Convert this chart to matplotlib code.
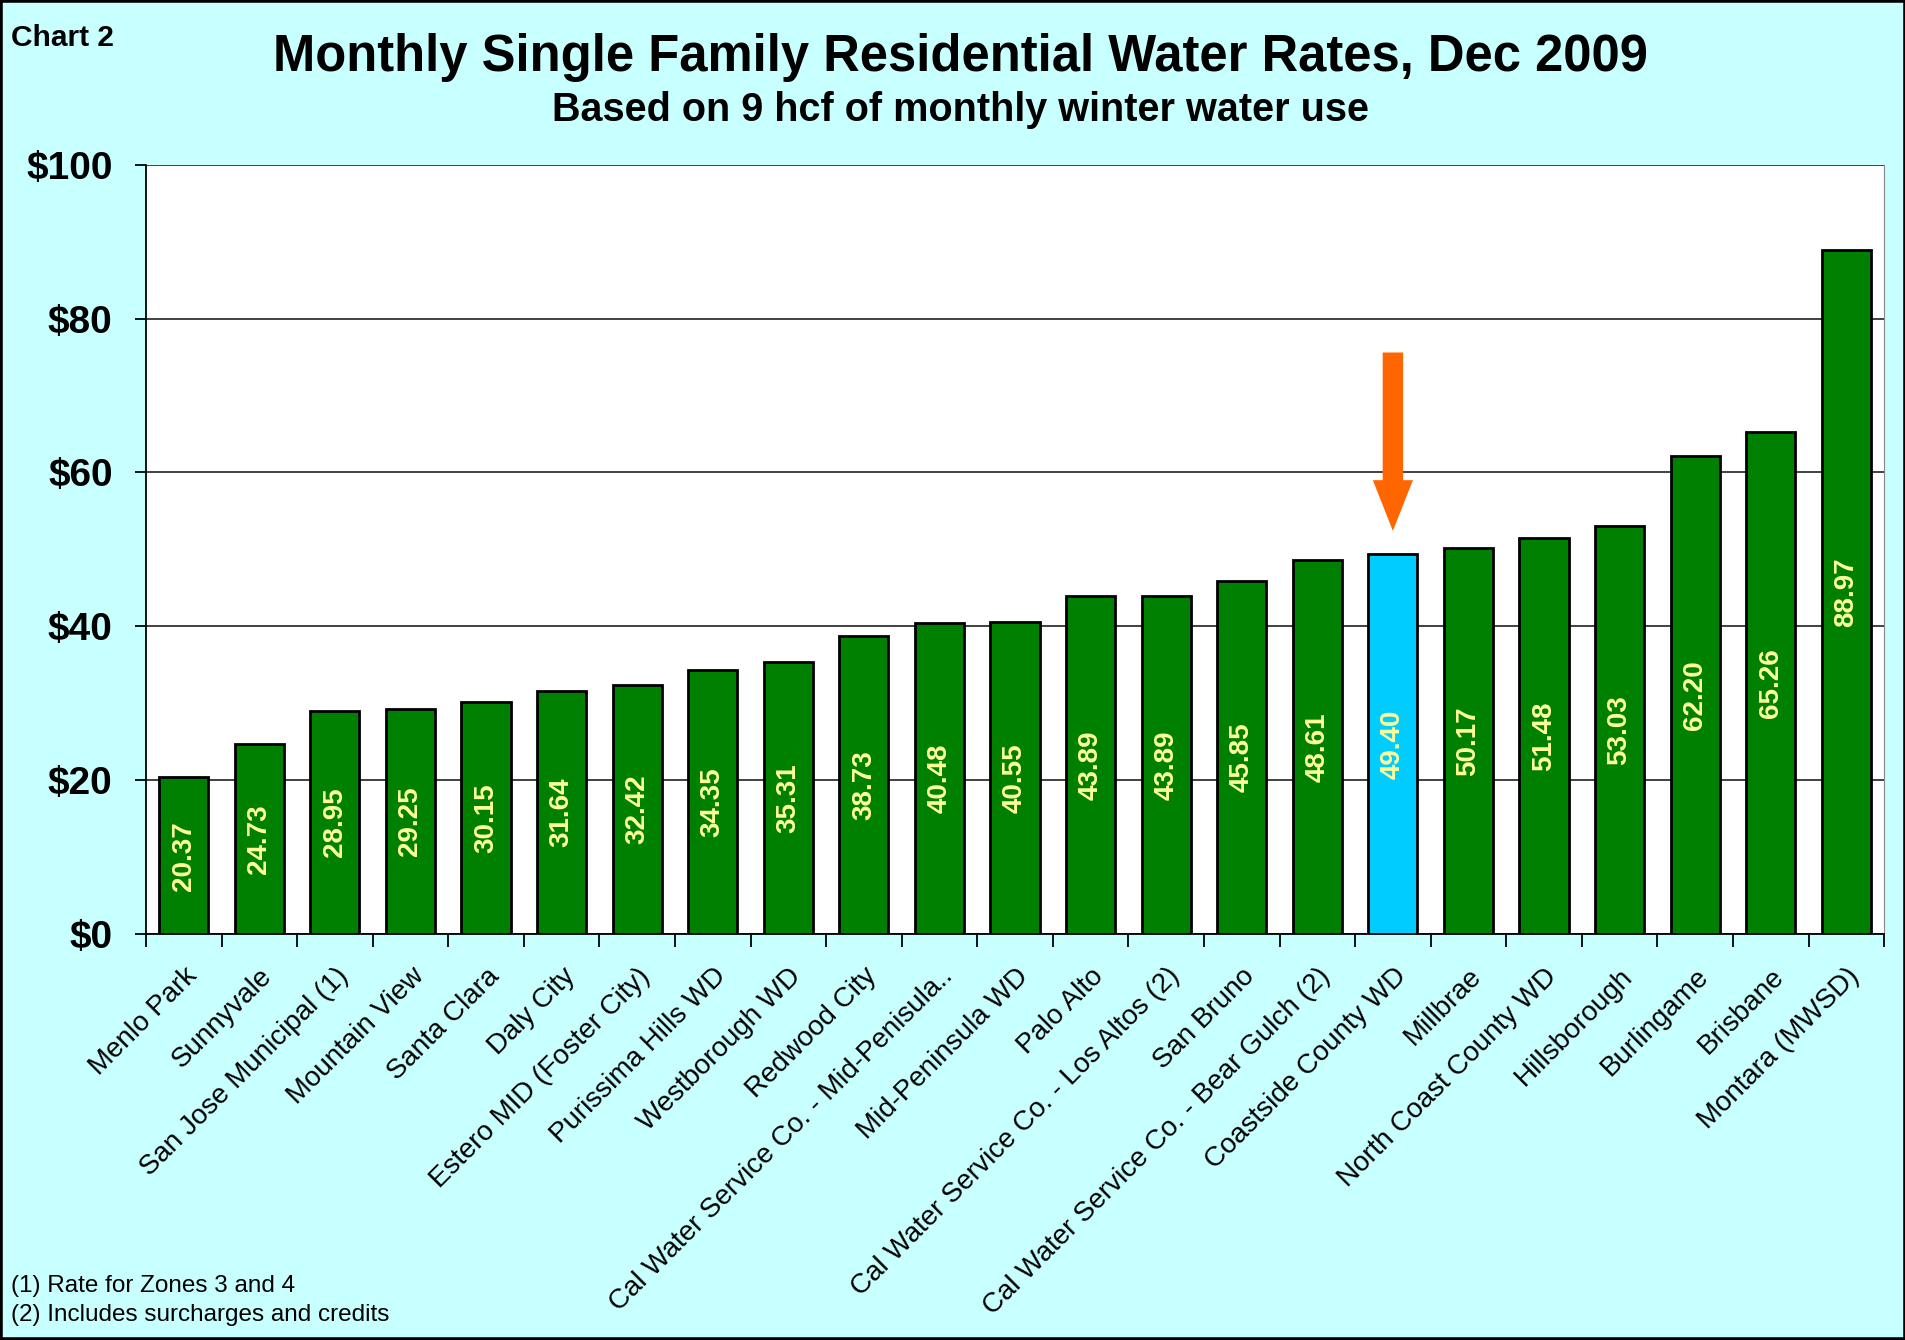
import numpy as np
import matplotlib
matplotlib.use('Agg')
import matplotlib.pyplot as plt
from matplotlib.patches import Rectangle

plt.rcParams['font.family'] = ['Liberation Sans', 'DejaVu Sans']

#%% data
agencies = ['Menlo Park', 'Sunnyvale', 'San Jose Municipal (1)', 'Mountain View',
            'Santa Clara', 'Daly City', 'Estero MID (Foster City)', 'Purissima Hills WD',
            'Westborough WD', 'Redwood City', 'Cal Water Service Co. - Mid-Penisula..',
            'Mid-Peninsula WD', 'Palo Alto', 'Cal Water Service Co. - Los Altos (2)',
            'San Bruno', 'Cal Water Service Co. - Bear Gulch (2)', 'Coastside County WD',
            'Millbrae', 'North Coast County WD', 'Hillsborough', 'Burlingame',
            'Brisbane', 'Montara (MWSD)']
rates = [20.37, 24.73, 28.95, 29.25, 30.15, 31.64, 32.42, 34.35, 35.31, 38.73,
         40.48, 40.55, 43.89, 43.89, 45.85, 48.61, 49.40, 50.17, 51.48, 53.03,
         62.20, 65.26, 88.97]
highlight = 'Coastside County WD'
yticks = [0, 20, 40, 60, 80, 100]
footnotes = ['(1) Rate for Zones 3 and 4', '(2) Includes surcharges and credits']

#%% figure
bg = '#C8FFFF'
fig = plt.figure(figsize=(19.06, 13.40), dpi=100, facecolor=bg)
ax = fig.add_axes([0.0766, 0.303, 0.9119, 0.574])
ax.set_facecolor('white')

x = np.arange(len(agencies))
colors = ['#00CCFF' if a == highlight else '#008000' for a in agencies]
ax.bar(x, rates, width=0.65, color=colors, edgecolor='black', linewidth=2, zorder=3)

for xi, v in zip(x, rates):
    ax.text(xi, v / 2, f'{v:.2f}', rotation=90, ha='center', va='center',
            color='#FFFF99', fontsize=20, fontweight='bold', zorder=4)

# arrow pointing at the highlighted bar
hi = agencies.index(highlight)
ax.arrow(hi, 75.6, 0, -16.6, width=0.27, head_width=0.53, head_length=6.6,
         length_includes_head=False, color='#FF6600', zorder=5, linewidth=0)

ax.set_xlim(-0.5, len(agencies) - 0.5)
ax.set_ylim(0, 100)
ax.set_yticks(yticks)
ax.set_yticklabels([f'${t}' for t in yticks], fontsize=28, fontweight='bold')
ax.yaxis.grid(True, color='#333333', linewidth=1.3, zorder=0)
ax.tick_params(axis='y', length=8, width=1.3, pad=16, direction='out')

ax.set_xticks(x)
ax.set_xticklabels(agencies, rotation=45, ha='right', rotation_mode='anchor',
                   fontsize=20)
ax.tick_params(axis='x', which='major', length=0, pad=21)
ax.set_xticks(np.arange(len(agencies) + 1) - 0.5, minor=True)
ax.tick_params(axis='x', which='minor', length=9, width=1.3, direction='out')

for s in ['left', 'bottom']:
    ax.spines[s].set_linewidth(1.3)
ax.spines['top'].set_visible(False)
ax.spines['right'].set_color('#888888')

fig.text(0.006, 0.972, 'Chart 2', fontsize=21.5, fontweight='bold', va='center')
fig.text(0.504, 0.957, 'Monthly Single Family Residential Water Rates, Dec 2009',
         fontsize=36.5, fontweight='bold', ha='center', va='center')
fig.text(0.504, 0.918, 'Based on 9 hcf of monthly winter water use',
         fontsize=28.5, fontweight='bold', ha='center', va='center')
fig.text(0.006, 0.040, footnotes[0], fontsize=17.5, va='center')
fig.text(0.006, 0.0187, footnotes[1], fontsize=17.5, va='center')

fig.patches.append(Rectangle((0, 0), 1, 1, transform=fig.transFigure, fill=False,
                             edgecolor='black', linewidth=4))

fig.savefig('out.png', dpi=100, facecolor=bg)
